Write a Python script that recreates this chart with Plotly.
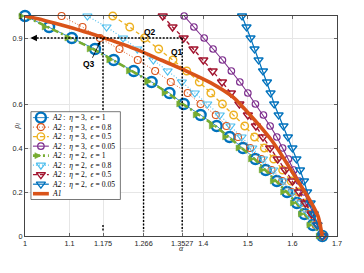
import plotly.graph_objects as go

# ---------------- data ----------------
rho_grid = [1.00, 0.95, 0.90, 0.85, 0.80, 0.75, 0.70, 0.65, 0.60, 0.55, 0.50,
            0.45, 0.40, 0.35, 0.30, 0.25, 0.20, 0.15, 0.10, 0.05, 0.00]

alpha_eta3_eps1 = [1.000, 1.054, 1.105, 1.157, 1.199, 1.244, 1.284, 1.324, 1.356, 1.394, 1.430,
                   1.459, 1.489, 1.517, 1.540, 1.565, 1.588, 1.610, 1.627, 1.646, 1.667]
alpha_eta3_eps08 = [1.082, 1.129, 1.168, 1.212, 1.253, 1.292, 1.327, 1.365, 1.394, 1.428, 1.452,
                    1.478, 1.505, 1.530, 1.553, 1.577, 1.598, 1.618, 1.635, 1.652, 1.667]
alpha_eta3_eps05 = [1.197, 1.235, 1.268, 1.300, 1.332, 1.363, 1.391, 1.417, 1.443, 1.468, 1.493,
                    1.515, 1.537, 1.558, 1.578, 1.597, 1.614, 1.630, 1.645, 1.657, 1.667]
alpha_eta3_eps005 = [1.357, 1.379, 1.402, 1.422, 1.443, 1.463, 1.482, 1.500, 1.517, 1.535, 1.550,
                     1.565, 1.578, 1.591, 1.603, 1.615, 1.626, 1.637, 1.647, 1.657, 1.667]
alpha_eta2_eps1 = [1.000, 1.052, 1.103, 1.153, 1.197, 1.241, 1.282, 1.321, 1.354, 1.391, 1.427,
                   1.457, 1.487, 1.515, 1.539, 1.564, 1.587, 1.609, 1.627, 1.646, 1.667]
alpha_eta2_eps08 = [1.140, 1.183, 1.220, 1.252, 1.288, 1.320, 1.352, 1.381, 1.409, 1.437, 1.461,
                    1.486, 1.510, 1.534, 1.557, 1.579, 1.600, 1.619, 1.637, 1.653, 1.667]
alpha_eta2_eps05 = [1.309, 1.331, 1.356, 1.378, 1.400, 1.421, 1.442, 1.462, 1.481, 1.500, 1.518,
                    1.534, 1.550, 1.567, 1.584, 1.600, 1.615, 1.629, 1.643, 1.656, 1.667]
alpha_eta2_eps005 = [1.487, 1.497, 1.506, 1.515, 1.524, 1.534, 1.543, 1.551, 1.559, 1.569, 1.580,
                     1.590, 1.600, 1.609, 1.617, 1.626, 1.633, 1.641, 1.648, 1.656, 1.666]

alpha_A1 = [1.000, 1.040, 1.080, 1.125, 1.170, 1.210, 1.250, 1.305, 1.361, 1.416,
            1.468, 1.520, 1.554, 1.580, 1.602, 1.620, 1.635, 1.648, 1.658, 1.667]
rho_A1 = [1.000, 0.982, 0.960, 0.934, 0.905, 0.878, 0.848, 0.800, 0.751, 0.697,
          0.629, 0.516, 0.433, 0.355, 0.283, 0.225, 0.177, 0.130, 0.087, 0.000]

x_ticks = [1, 1.1, 1.175, 1.266, 1.3527, 1.4, 1.5, 1.6, 1.7]
x_ticklabels = ["1", "1.1", "1.175", "1.266", "1.3527", "1.4", "1.5", "1.6", "1.7"]
y_ticks = [0, 0.2, 0.4, 0.6, 0.9, 1]
y_ticklabels = ["0", "0.2", "0.4", "0.6", "0.9", "1"]

q_level = 0.9
q_alphas = [1.3527, 1.266, 1.175]   # Q1, Q2, Q3
q_labels = ["Q1", "Q2", "Q3"]

legend_labels = [
    "<i>A2</i> :  <i>η</i> = 3,  <i>ϵ</i> = 1",
    "<i>A2</i> :  <i>η</i> = 3,  <i>ϵ</i> = 0.8",
    "<i>A2</i> :  <i>η</i> = 3,  <i>ϵ</i> = 0.5",
    "<i>A2</i> :  <i>η</i> = 3,  <i>ϵ</i> = 0.05",
    "<i>A2</i> :  <i>η</i> = 2,  <i>ϵ</i> = 1",
    "<i>A2</i> :  <i>η</i> = 2,  <i>ϵ</i> = 0.8",
    "<i>A2</i> :  <i>η</i> = 2,  <i>ϵ</i> = 0.5",
    "<i>A2</i> :  <i>η</i> = 2,  <i>ϵ</i> = 0.05",
    "<i>A1</i>",
]

# ---------------- styles ----------------
BLUE = "#0072BD"; ORANGE = "#D95319"; YELLOW = "#EDB120"; PURPLE = "#7E2F8E"
GREEN = "#77AC30"; CYAN = "#4DBEEE"; RED = "#A2142F"

series = [
    dict(a=alpha_eta3_eps1, color=BLUE, sym="circle-open", size=10, mlw=2.4, lw=0.8, dash="solid"),
    dict(a=alpha_eta3_eps08, color=ORANGE, sym="circle-open", size=7, mlw=1.1, lw=1.0, dash="1px,2px"),
    dict(a=alpha_eta3_eps05, color=YELLOW, sym="circle-open", size=7.5, mlw=1.4, lw=1.3, dash="4px,3px"),
    dict(a=alpha_eta3_eps005, color=PURPLE, sym="circle-open", size=6.5, mlw=1.2, lw=1.1, dash="solid"),
    dict(a=alpha_eta2_eps1, color=GREEN, sym="arrow-right", size=6, mlw=0.5, lw=2.6, dash="7px,3px,2px,3px"),
    dict(a=alpha_eta2_eps08, color=CYAN, sym="triangle-down-open", size=8, mlw=1.2, lw=1.1, dash="1px,2px"),
    dict(a=alpha_eta2_eps05, color=RED, sym="triangle-down-open", size=8, mlw=1.4, lw=1.3, dash="4px,3px"),
    dict(a=alpha_eta2_eps005, color=BLUE, sym="triangle-down-open", size=8, mlw=1.3, lw=1.2, dash="solid"),
]

fig = go.Figure()

for s in series:
    fig.add_trace(go.Scatter(
        x=s["a"], y=rho_grid, mode="lines+markers",
        line=dict(color=s["color"], width=s["lw"], dash=s["dash"]),
        marker=dict(symbol=s["sym"], size=s["size"], color=s["color"],
                    line=dict(color=s["color"], width=s["mlw"])),
        showlegend=False, hoverinfo="skip", cliponaxis=False,
    ))

fig.add_trace(go.Scatter(
    x=alpha_A1, y=rho_A1, mode="lines",
    line=dict(color=ORANGE, width=3.6, shape="spline", smoothing=0.6),
    showlegend=False, hoverinfo="skip",
))

# ---------------- layout geometry (pixels) ----------------
W, H = 364, 273
ML, MR, MT, MB = 23, 27, 13, 37
PW, PH = W - ML - MR, H - MT - MB


def px2x(px):
    return (px - ML) / PW


def py2y(py):
    return (MT + PH - py) / PH


# ---------------- manual legend (overlay axes in paper fractions) ----------------
box_l, box_r, box_t, box_b = 29, 119, 110, 199
fig.add_trace(go.Scatter(
    x=[px2x(box_l), px2x(box_r), px2x(box_r), px2x(box_l), px2x(box_l)],
    y=[py2y(box_t), py2y(box_t), py2y(box_b), py2y(box_b), py2y(box_t)],
    xaxis="x2", yaxis="y2", mode="lines", fill="toself", fillcolor="white",
    line=dict(color="#555555", width=0.8), showlegend=False, hoverinfo="skip",
))

row0, row_step = 116.0, 9.64
leg_styles = series + [dict(color=ORANGE, sym=None, lw=3.6, dash="solid")]
annotations = []
for i, (st, lab) in enumerate(zip(leg_styles, legend_labels)):
    yy = py2y(row0 + i * row_step)
    fig.add_trace(go.Scatter(
        x=[px2x(31), px2x(47)], y=[yy, yy], xaxis="x2", yaxis="y2", mode="lines",
        line=dict(color=st["color"], width=min(st["lw"], 3.6), dash=st["dash"]),
        showlegend=False, hoverinfo="skip",
    ))
    if st["sym"] is not None:
        fig.add_trace(go.Scatter(
            x=[px2x(39)], y=[yy], xaxis="x2", yaxis="y2", mode="markers",
            marker=dict(symbol=st["sym"], size=st["size"], color=st["color"],
                        line=dict(color=st["color"], width=st["mlw"])),
            showlegend=False, hoverinfo="skip",
        ))
    annotations.append(dict(
        x=px2x(48), y=yy, xref="paper", yref="paper", text=lab, showarrow=False,
        xanchor="left", yanchor="middle",
        font=dict(family="Liberation Serif, Times New Roman, serif", size=7.6, color="black"),
    ))

# ---------------- Q guide lines ----------------
shapes = []
dotted = dict(color="black", width=1.4, dash="2px,1.5px")
shapes.append(dict(type="line", xref="x", yref="y", x0=q_alphas[0], x1=1.018,
                   y0=q_level, y1=q_level, line=dotted, layer="above"))
for qa in q_alphas[:2]:
    shapes.append(dict(type="line", xref="x", yref="y", x0=qa, x1=qa, y0=q_level, y1=0.02,
                       line=dotted, layer="above"))
shapes.append(dict(type="line", xref="x", yref="y", x0=q_alphas[2], x1=q_alphas[2],
                   y0=q_level, y1=0.57, line=dotted, layer="above"))
shapes.append(dict(type="line", xref="x", yref="y", x0=q_alphas[2], x1=q_alphas[2],
                   y0=0.05, y1=0.02, line=dotted, layer="above"))

arrow_common = dict(showarrow=True, arrowhead=2, arrowsize=1.1, arrowwidth=1.2,
                    arrowcolor="black", text=" ", xref="x", yref="y")
annotations.append(dict(x=1.012, y=q_level, ax=6, ay=0, **arrow_common))
for qa in q_alphas:
    annotations.append(dict(x=qa, y=0.0, ax=0, ay=-6, **arrow_common))

qfont = dict(family="Liberation Sans, Arial, sans-serif", size=8.5, color="black")
annotations.append(dict(x=px2x(176), y=py2y(42), xref="paper", yref="paper", text="<b>Q1</b>",
                        showarrow=False, font=qfont))
annotations.append(dict(x=px2x(149), y=py2y(22.5), xref="paper", yref="paper", text="<b>Q2</b>",
                        showarrow=False, font=qfont))
annotations.append(dict(x=1.169, y=0.885, xref="x", yref="y", text="<b>Q3</b>", showarrow=True,
                        ax=-11, ay=23, arrowhead=2, arrowsize=0.9, arrowwidth=0.8,
                        arrowcolor="black", font=qfont, standoff=0))

annotations.append(dict(x=px2x(181), y=py2y(255.5), xref="paper", yref="paper",
                        text="<i>α</i>", showarrow=False,
                        font=dict(family="Liberation Serif, serif", size=8, color="#262626")))
annotations.append(dict(x=px2x(8), y=py2y(125), xref="paper", yref="paper",
                        text="<i>ρ</i><sub><i>l</i></sub>", showarrow=False, textangle=-90,
                        font=dict(family="Liberation Serif, serif", size=8, color="#262626")))

tickfont = dict(family="Liberation Sans, Arial, sans-serif", size=7.3, color="#262626")
axis_common = dict(showline=True, linecolor="#444444", linewidth=1, mirror="ticks",
                   ticks="inside", ticklen=3, tickcolor="#666666", tickwidth=0.8,
                   showgrid=True, gridcolor="#E6E6E6", gridwidth=0.8, zeroline=False,
                   tickfont=tickfont)

fig.update_layout(
    width=W, height=H, margin=dict(l=ML, r=MR, t=MT, b=MB),
    paper_bgcolor="white", plot_bgcolor="white", showlegend=False,
    xaxis=dict(range=[1, 1.7], tickmode="array", tickvals=x_ticks, ticktext=x_ticklabels,
               **axis_common),
    yaxis=dict(range=[0, 1], tickmode="array", tickvals=y_ticks, ticktext=y_ticklabels,
               **axis_common),
    xaxis2=dict(overlaying="x", range=[0, 1], visible=False, fixedrange=True),
    yaxis2=dict(overlaying="y", range=[0, 1], visible=False, fixedrange=True),
    shapes=shapes, annotations=annotations,
)

fig.write_html("out.html", config={"displayModeBar": False},
               post_script="document.body.style.margin='0px';")
